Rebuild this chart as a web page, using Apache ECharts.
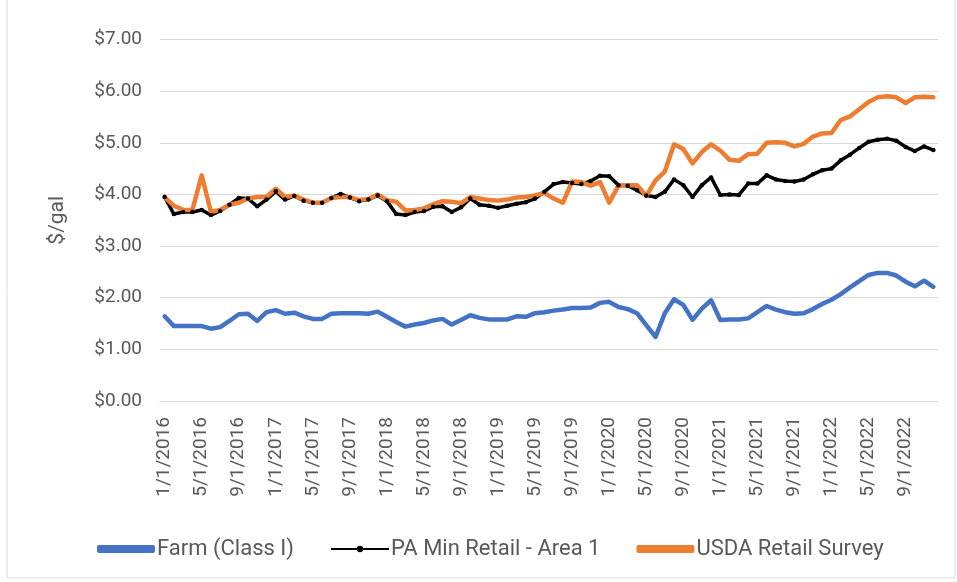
<!DOCTYPE html>
<html>
    <head>
        <meta charset=utf-8>
        <style>
            body { margin: 0; background: #fff; }
        </style>
    </head>
    <body>
        <div id="chart" style="width:957px;height:582px"></div>
        <script src="https://cdn.jsdelivr.net/npm/echarts@6/dist/echarts.min.js"></script>
        <script type="text/javascript">

            var myChart = echarts.init(document.querySelector('#chart'));

            // monthly categories, 1/1/2016 .. 12/1/2022
            let months = []
            for (let y = 2016; y <= 2022; y++) {
                for (let m = 1; m <= 12; m++) {
                    months.push(m + '/1/' + y)
                }
            }

            let farm = [
                1.64, 1.45, 1.45, 1.45, 1.45, 1.40, 1.43, 1.55, 1.68, 1.69, 1.55, 1.72,
                1.76, 1.69, 1.71, 1.64, 1.59, 1.59, 1.69, 1.70, 1.70, 1.70, 1.69, 1.73,
                1.63, 1.53, 1.44, 1.48, 1.51, 1.56, 1.59, 1.48, 1.57, 1.66, 1.61, 1.58,
                1.58, 1.58, 1.64, 1.63, 1.70, 1.72, 1.75, 1.77, 1.80, 1.80, 1.81, 1.90,
                1.92, 1.82, 1.78, 1.70, 1.47, 1.24, 1.70, 1.97, 1.86, 1.57, 1.79, 1.95,
                1.57, 1.58, 1.58, 1.60, 1.72, 1.84, 1.77, 1.72, 1.69, 1.70, 1.78, 1.88,
                1.96, 2.07, 2.20, 2.32, 2.44, 2.48, 2.48, 2.43, 2.31, 2.22, 2.33, 2.21
            ]
            let paMin = [
                3.95, 3.62, 3.66, 3.66, 3.70, 3.60, 3.68, 3.80, 3.93, 3.92, 3.77, 3.90,
                4.06, 3.90, 3.97, 3.88, 3.84, 3.84, 3.93, 4.01, 3.94, 3.87, 3.90, 3.98,
                3.87, 3.62, 3.60, 3.66, 3.68, 3.76, 3.77, 3.66, 3.75, 3.92, 3.80, 3.78,
                3.74, 3.78, 3.82, 3.85, 3.92, 4.05, 4.20, 4.24, 4.22, 4.20, 4.26, 4.36,
                4.35, 4.18, 4.17, 4.08, 3.98, 3.95, 4.05, 4.29, 4.18, 3.95, 4.18, 4.33,
                3.99, 4.00, 3.99, 4.21, 4.21, 4.37, 4.29, 4.26, 4.25, 4.29, 4.39, 4.47,
                4.50, 4.66, 4.77, 4.90, 5.02, 5.06, 5.08, 5.04, 4.92, 4.84, 4.93, 4.86
            ]
            let usda = [
                3.95, 3.78, 3.70, 3.70, 4.37, 3.66, 3.70, 3.80, 3.84, 3.92, 3.95, 3.95,
                4.11, 3.95, 3.98, 3.90, 3.84, 3.84, 3.93, 3.95, 3.95, 3.89, 3.91, 4.00,
                3.89, 3.86, 3.69, 3.70, 3.73, 3.81, 3.87, 3.86, 3.83, 3.95, 3.92, 3.89,
                3.88, 3.90, 3.94, 3.95, 3.98, 4.03, 3.92, 3.84, 4.25, 4.24, 4.17, 4.24,
                3.84, 4.17, 4.18, 4.18, 3.97, 4.27, 4.44, 4.97, 4.88, 4.60, 4.82, 4.97,
                4.85, 4.67, 4.65, 4.78, 4.79, 5.00, 5.01, 5.00, 4.93, 4.98, 5.12, 5.18,
                5.19, 5.44, 5.51, 5.65, 5.79, 5.88, 5.90, 5.88, 5.77, 5.88, 5.89, 5.88
            ]

            let textColor = '#595959'
            let fontFamily = 'Roboto, sans-serif'

            let option = {
            animation: false,
            textStyle: { fontFamily: fontFamily },
            graphic: [{
                type: 'rect',
                shape: { x: 7, y: -2, width: 948, height: 580 },
                style: { fill: 'none', stroke: '#d9d9d9', lineWidth: 1 },
                silent: true
            }],
            legend: {
                left: 97,
                top: 538,
                padding: 0,
                itemWidth: 58,
                itemGap: 36,
                itemHeight: 8,
                textStyle: { color: textColor, fontSize: 22, padding: [0, 0, 0, -3] },
                data: [
                    { name: 'Farm (Class I)', icon: 'roundRect' },
                    { name: 'PA Min Retail - Area 1' },
                    { name: 'USDA Retail Survey', icon: 'roundRect' }
                ]
            },
            grid: {
                left: 160,
                right: 19,
                top: 39.5,
                bottom: 181,
            },
            xAxis: {
                type: 'category',
                boundaryGap: true,
                data: months,
                axisLine: { lineStyle: { color: '#d9d9d9', width: 1 } },
                axisTick: { show: false },
                axisLabel: {
                    interval: 3, // 每4个月显示一个标签
                    rotate: 90,
                    color: textColor,
                    fontSize: 19,
                    margin: 16,
                },
            },
            yAxis: {
                type: 'value',
                min: 0,
                max: 7,
                interval: 1,
                name: '$/gal',
                nameLocation: 'middle',
                nameGap: 92,
                nameTextStyle: { color: textColor, fontSize: 21 },
                axisLine: { show: false },
                axisTick: { show: false },
                splitLine: { lineStyle: { color: '#d9d9d9', width: 1 } },
                axisLabel: {
                    color: textColor,
                    fontSize: 19,
                    margin: 18,
                    formatter: (v) => '$' + v.toFixed(2)
                },
            },
            series: [
                {
                    name: 'Farm (Class I)',
                    type: 'line',
                    data: farm,
                    symbol: 'none',
                    lineStyle: { color: '#4472c4', width: 4.5, cap: 'round', join: 'round' },
                    itemStyle: { color: '#4472c4' },
                },
                {
                    name: 'PA Min Retail - Area 1',
                    type: 'line',
                    data: paMin,
                    symbol: 'circle',
                    symbolSize: 4.5,
                    showAllSymbol: true,
                    lineStyle: { color: '#000000', width: 3.5, join: 'round' },
                    itemStyle: { color: '#000000' },
                },
                {
                    name: 'USDA Retail Survey',
                    type: 'line',
                    data: usda,
                    symbol: 'none',
                    lineStyle: { color: '#ed7d31', width: 4.5, cap: 'round', join: 'round' },
                    itemStyle: { color: '#ed7d31' },
                },
            ],
            }
            myChart.setOption(option);
        </script>
    </body>
</html>
